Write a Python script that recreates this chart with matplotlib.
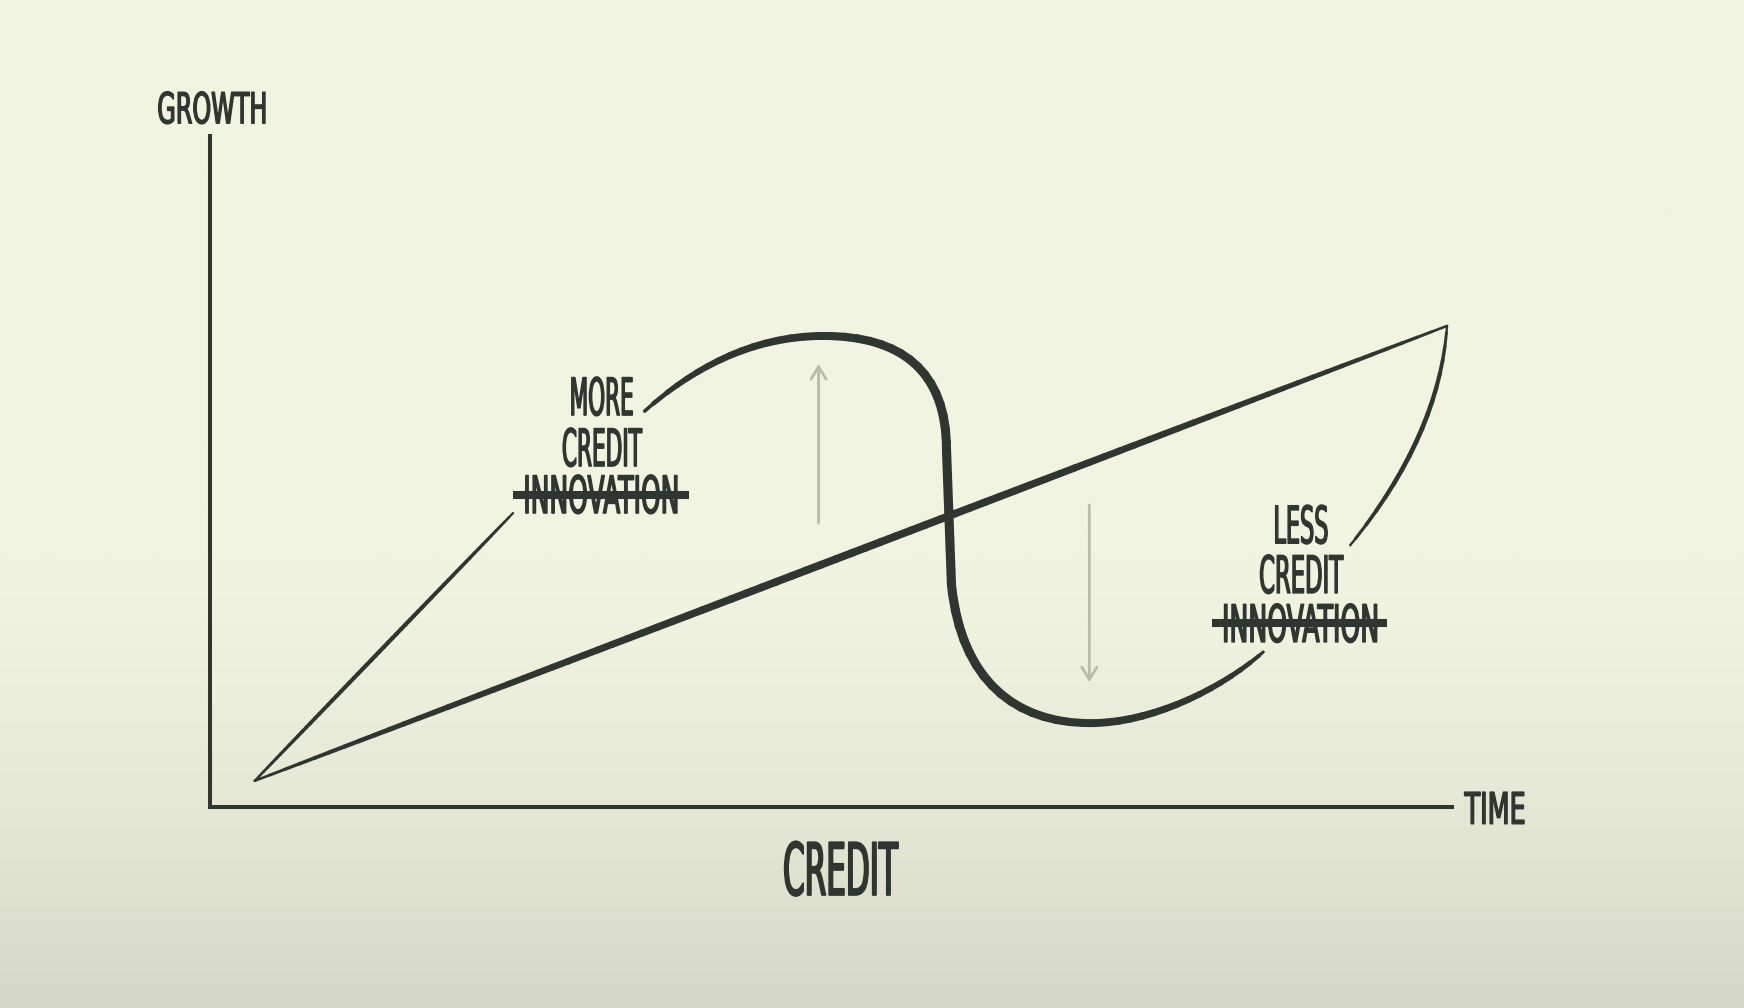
import numpy as np
import matplotlib
matplotlib.use('Agg')
import matplotlib.pyplot as plt
import matplotlib.patheffects as pe
from matplotlib.path import Path
from matplotlib.collections import LineCollection
from matplotlib.transforms import Affine2D

INK = '#2f3531'
ARROW = '#b9bcac'
FONT = ['Liberation Sans Narrow', 'DejaVu Sans']

# chart values, in axis units (time 0..100, growth 0..100)
trend_time = [3.6, 99.6]
trend_growth = [3.9, 71.7]

boom_time = [3.6, 24.4]
boom_growth = [3.9, 43.8]

# cycle drawn as bezier pieces: start, up to the peak, down the cliff, trough, back up
cycle_time = [35.0, 38.7, 43.5, 49.4, 55.6, 59.3, 59.3, 59.7, 60.5, 64.8, 70.9, 75.7, 81.3, 84.8]
cycle_growth = [59.0, 65.1, 70.2, 70.2, 70.2, 65.1, 53.2, 33.1, 18.9, 12.5, 12.5, 12.5, 17.4, 23.1]

recovery_time = [91.8, 99.0, 99.6]
recovery_growth = [39.0, 55.4, 71.7]

up_arrow_time, up_arrow_growth = [49.0, 49.0], [42.3, 66.0]
down_arrow_time, down_arrow_growth = [70.8, 70.8], [45.0, 18.6]

more_lines = ['MORE', 'CREDIT', 'INNOVATION']
more_time, more_growth = 31.5, [58.4, 50.8, 43.8]
more_strike_time, more_strike_growth = [24.4, 38.6], 46.5

less_lines = ['LESS', 'CREDIT', 'INNOVATION']
less_time, less_growth = 87.8, [39.3, 31.9, 24.6]
less_strike_time, less_strike_growth = [80.7, 94.8], 27.4


class Squeeze(pe.AbstractPathEffect):
    """narrow the glyphs (stretch them up a bit), line stays centred;
    a thin outline evens out the stroke weight"""
    def __init__(self, sx, sy=1.0, lw=1.0):
        super().__init__()
        self.sx = sx
        self.sy = sy
        self.lw = lw

    def draw_path(self, renderer, gc, tpath, affine, rgbFace=None):
        ext = tpath.get_extents()
        cx = (ext.x0 + ext.x1) / 2
        tr = Affine2D().translate(-cx, 0).scale(self.sx, self.sy).translate(cx, 0) + affine
        gc0 = renderer.new_gc()
        gc0.copy_properties(gc)
        gc0.set_linewidth(self.lw)
        gc0.set_foreground(rgbFace)
        gc0.set_joinstyle('round')
        renderer.draw_path(gc0, tpath, tr, rgbFace)
        gc0.restore()


def brush(ax, path, wmax, wmin=1.2, power=0.5):
    poly = path.to_polygons(transform=ax.transData, closed_only=False)[0]
    pts = ax.transData.inverted().transform(poly)
    seg = np.stack([pts[:-1], pts[1:]], axis=1)
    d = np.hypot(*np.diff(poly, axis=0).T)
    s = (np.cumsum(d) - d / 2) / d.sum()
    w = wmin + (wmax - wmin) * np.sin(np.pi * s) ** power
    lc = LineCollection(seg, linewidths=w, colors=INK, capstyle='round',
                        joinstyle='round', zorder=3, clip_on=False)
    ax.add_collection(lc)


def label(ax, x, y, s, size, width_px, sy=1.18, lw=1.0):
    t = ax.text(x, y, s, fontsize=size, family=FONT, color=INK,
                ha='center', va='baseline', zorder=4)
    full = t.get_window_extent(renderer=fig.canvas.get_renderer()).width
    t.set_path_effects([Squeeze(width_px / full, sy, lw)])
    return t


fig = plt.figure(figsize=(17.44, 10.08), dpi=100)

# paper background, darker towards the bottom
f = np.linspace(0, 1, 400)[:, None]
w = np.clip((f - 0.55) / 0.45, 0, 1) ** 1.4
top = np.array([241, 244, 225]) / 255
bottom = np.array([213, 216, 198]) / 255
grad = (top * (1 - w) + bottom * w)[:, None, :].repeat(4, axis=1).reshape(400, 4, 3)
bg = fig.add_axes([0, 0, 1, 1])
bg.imshow(grad, aspect='auto', extent=[0, 1, 0, 1], interpolation='bilinear')
bg.axis('off')

ax = fig.add_axes([210 / 1744, 201 / 1008, 1242 / 1744, 671 / 1008])
ax.set_xlim(0, 100)
ax.set_ylim(0, 100)
ax.patch.set_alpha(0)
for side in ['top', 'right']:
    ax.spines[side].set_visible(False)
for side in ['left', 'bottom']:
    ax.spines[side].set_linewidth(2.9)
    ax.spines[side].set_color(INK)
    ax.spines[side].set_capstyle('projecting')
ax.set_xticks([])
ax.set_yticks([])

brush(ax, Path(np.column_stack([trend_time, trend_growth])).interpolated(80), 5.6, 1.6, 0.7)
brush(ax, Path(np.column_stack([boom_time, boom_growth])).interpolated(60), 3.0, 1.4)

C4, L = Path.CURVE4, Path.LINETO
cycle_codes = [Path.MOVETO, C4, C4, C4, C4, C4, C4, L, C4, C4, C4, C4, C4, C4]
brush(ax, Path(np.column_stack([cycle_time, cycle_growth]), cycle_codes), 6.6, 1.2, 0.35)

recovery_codes = [Path.MOVETO, Path.CURVE3, Path.CURVE3]
brush(ax, Path(np.column_stack([recovery_time, recovery_growth]), recovery_codes), 3.4, 1.2)

for at, ag in [(up_arrow_time, up_arrow_growth), (down_arrow_time, down_arrow_growth)]:
    ax.annotate('', xy=(at[1], ag[1]), xytext=(at[0], ag[0]),
                arrowprops=dict(arrowstyle='->,head_length=0.9,head_width=0.55',
                                color=ARROW, lw=2.0, shrinkA=0, shrinkB=0))

for s, g, wpx in zip(more_lines, more_growth, [64, 80, 156]):
    label(ax, more_time, g, s, 31.5, wpx)
for s, g, wpx in zip(less_lines, less_growth, [55, 84, 157]):
    label(ax, less_time, g, s, 31.5, wpx)
ax.plot(more_strike_time, [more_strike_growth] * 2, lw=5.8, color=INK,
        solid_capstyle='butt', clip_on=False, zorder=5)
ax.plot(less_strike_time, [less_strike_growth] * 2, lw=5.8, color=INK,
        solid_capstyle='butt', clip_on=False, zorder=5)

label(ax, 0.2, 101.9, 'GROWTH', 26, 110)
label(ax, 103.5, -2.5, 'TIME', 26.5, 61)
label(ax, 50.7, -13.1, 'CREDIT', 44, 115, lw=1.4)

fig.savefig('out.png', dpi=100)
